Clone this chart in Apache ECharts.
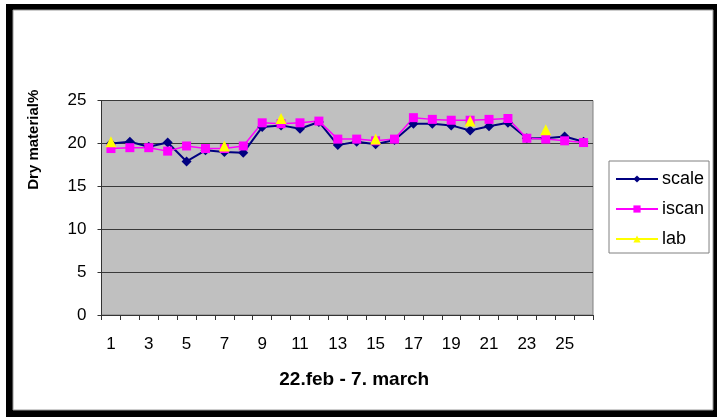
<!DOCTYPE html>
<html>
<head>
<meta charset="utf-8">
<script src="https://cdn.jsdelivr.net/npm/echarts@6/dist/echarts.min.js"></script>
<style>
html,body{margin:0;padding:0;background:#fff;}
#c{width:717px;height:417px;}
</style>
</head>
<body>
<div id="c"></div>
<script>
var categories = ['1','2','3','4','5','6','7','8','9','10','11','12','13','14','15','16','17','18','19','20','21','22','23','24','25','26'];
var scaleValues = [20.0, 20.2, 19.6, 20.1, 17.9, 19.2, 19.0, 18.9, 21.9, 22.1, 21.7, 22.5, 19.8, 20.2, 19.9, 20.4, 22.3, 22.3, 22.1, 21.5, 22.0, 22.4, 20.6, 20.6, 20.8, 20.2];
var iscanValues = [19.4, 19.5, 19.5, 19.1, 19.7, 19.4, 19.4, 19.7, 22.4, 22.3, 22.4, 22.6, 20.5, 20.5, 20.3, 20.5, 23.0, 22.8, 22.7, 22.7, 22.8, 22.9, 20.6, 20.5, 20.3, 20.1];
var labValues = [20.2, null, null, null, null, null, 19.7, null, null, 22.9, null, null, null, null, 20.5, null, null, null, null, 22.6, null, null, null, 21.6, null, null];
var yTicks = [0, 5, 10, 15, 20, 25];

var FONT = 'Liberation Sans';
var chart = echarts.init(document.getElementById('c'));
chart.setOption({
  animation: false,
  backgroundColor: '#fff',
  textStyle: { fontFamily: FONT },
  graphic: {
    elements: [
      { type: 'rect', z: -100, shape: { x: 6, y: 4, width: 711, height: 413 }, style: { fill: '#000' } },
      { type: 'rect', z: -99, shape: { x: 13, y: 10, width: 700, height: 400 }, style: { fill: '#fff', stroke: '#999', lineWidth: 1 } }
    ]
  },
  grid: {
    left: 101.5, right: 124, top: 100.5, bottom: 102,
    show: true, backgroundColor: '#C0C0C0', borderColor: '#808080', borderWidth: 1
  },
  legend: {
    orient: 'vertical',
    left: 609, top: 161,
    padding: [9, 5, 5, 6],
    itemWidth: 42, itemHeight: 9,
    itemGap: 12,
    backgroundColor: '#fff',
    borderColor: '#808080', borderWidth: 1,
    textStyle: { fontFamily: FONT, fontSize: 18, color: '#000', padding: [0, 0, 0, -1] },
    data: ['scale', 'iscan', 'lab']
  },
  xAxis: {
    type: 'category',
    data: categories,
    boundaryGap: true,
    name: '22.feb - 7. march',
    nameLocation: 'middle',
    nameGap: 55,
    nameTextStyle: { fontFamily: FONT, fontSize: 19, fontWeight: 'bold', color: '#000', padding: [0, 0, 0, 14] },
    axisLine: { lineStyle: { color: '#333', width: 1 } },
    axisTick: { show: true, length: 5, alignWithLabel: false, interval: 0, lineStyle: { color: '#333' } },
    axisLabel: { interval: 1, fontFamily: FONT, fontSize: 17, color: '#000', margin: 21 },
    splitLine: { show: false }
  },
  yAxis: {
    type: 'value',
    min: 0, max: 25, interval: 5,
    name: 'Dry material%',
    nameLocation: 'middle',
    nameGap: 60,
    nameTextStyle: { fontFamily: FONT, fontSize: 15, fontWeight: 'bold', color: '#000', padding: [0, 0, 0, 136] },
    axisLine: { show: true, lineStyle: { color: '#333', width: 1 } },
    axisTick: { show: true, length: 4, lineStyle: { color: '#333' } },
    axisLabel: {
      fontFamily: FONT, fontSize: 17, color: '#000', margin: 15,
      formatter: function (v) { return yTicks.indexOf(v) >= 0 ? String(v) : ''; }
    },
    splitLine: { show: true, lineStyle: { color: '#3a3a3a', width: 1 } }
  },
  series: [
    {
      name: 'scale', type: 'line', data: scaleValues,
      symbol: 'diamond', symbolSize: 10,
      lineStyle: { color: '#000080', width: 2 },
      itemStyle: { color: '#000080' }
    },
    {
      name: 'iscan', type: 'line', data: iscanValues,
      symbol: 'rect', symbolSize: 9,
      lineStyle: { color: '#FF00FF', width: 1.5 },
      itemStyle: { color: '#FF00FF' }
    },
    {
      name: 'lab', type: 'line', data: labValues,
      connectNulls: false,
      symbol: 'triangle', symbolSize: 11,
      lineStyle: { color: '#FFFF00', width: 1.5 },
      itemStyle: { color: '#FFFF00' }
    }
  ]
});
</script>
</body>
</html>
